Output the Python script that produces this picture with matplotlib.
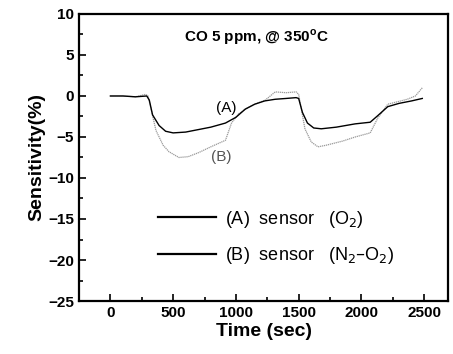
import matplotlib
matplotlib.use("Agg")
import matplotlib.pyplot as plt
from matplotlib.lines import Line2D
from matplotlib.ticker import MultipleLocator

plt.rcParams["font.family"] = ["Liberation Sans", "DejaVu Sans"]

# sensor (A), O2 ambient
time_a = [0, 100, 200, 290, 310, 336, 388, 440, 500, 600, 700, 800, 917, 1000, 1075, 1150, 1230, 1313, 1400,
          1480, 1500, 1530, 1570, 1620, 1680, 1800, 1950, 2070, 2130, 2210, 2300, 2400, 2485]
sens_a = [0.0, 0.0, -0.1, 0.0, -0.5, -2.3, -3.6, -4.3, -4.5, -4.4, -4.1, -3.8, -3.3, -2.6, -1.6, -1.0, -0.6,
          -0.4, -0.3, -0.2, -0.3, -2.0, -3.3, -3.9, -4.0, -3.8, -3.4, -3.2, -2.4, -1.3, -0.9, -0.6, -0.3]

# sensor (B), N2-O2 ambient
time_b = [0, 100, 200, 280, 300, 330, 363, 420, 467, 546, 620, 704, 800, 917, 965, 1020, 1075, 1150, 1234, 1313,
          1400, 1480, 1500, 1550, 1600, 1654, 1720, 1850, 1950, 2070, 2130, 2210, 2365, 2430, 2485]
sens_b = [0.0, 0.0, -0.1, 0.2, 0.0, -2.0, -4.2, -6.0, -6.8, -7.5, -7.4, -6.9, -6.2, -5.4, -3.3, -2.2, -1.6,
          -1.0, -0.5, 0.5, 0.4, 0.5, 0.2, -4.0, -5.6, -6.2, -6.0, -5.5, -5.0, -4.5, -2.7, -1.0, -0.4, 0.0, 1.0]

fig = plt.figure(figsize=(4.53, 3.54), dpi=100)
ax = fig.add_axes([0.1744, 0.1497, 0.8146, 0.8108])

ax.plot(time_b, sens_b, color="#9a9a9a", lw=0.9, ls=(0, (1, 0.6)))
ax.plot(time_a, sens_a, color="black", lw=1.0)

ax.set_xlim(-250, 2690)
ax.set_ylim(-25, 10)
ax.xaxis.set_major_locator(MultipleLocator(500))
ax.xaxis.set_minor_locator(MultipleLocator(250))
ax.yaxis.set_major_locator(MultipleLocator(5))
ax.yaxis.set_minor_locator(MultipleLocator(2.5))
ax.tick_params(which="both", direction="in", width=1.2)
ax.tick_params(which="major", length=5, labelsize=11)
ax.tick_params(which="minor", length=3)
for lbl in ax.get_xticklabels() + ax.get_yticklabels():
    lbl.set_fontweight("bold")
for s in ax.spines.values():
    s.set_linewidth(1.6)

ax.set_xlabel("Time (sec)", fontsize=14, fontweight="bold", labelpad=2)
ax.set_ylabel("Sensitivity(%)", fontsize=14, fontweight="bold", labelpad=2)

ax.text(0.48, 0.955, "CO 5 ppm, @ 350$^{\\mathregular{o}}$C", transform=ax.transAxes,
        ha="center", va="top", fontsize=11, fontweight="bold")
ax.text(925, -1.5, "(A)", fontsize=11, ha="center", va="center")
ax.text(880, -7.5, "(B)", fontsize=11, ha="center", va="center", color="#555555")

handles = [Line2D([], [], color="black", lw=1.6), Line2D([], [], color="black", lw=1.6)]
labels = ["(A)  sensor   (O$_2$)", "(B)  sensor   (N$_2$–O$_2$)"]
ax.legend(handles, labels, loc="lower left", bbox_to_anchor=(0.17, 0.065), frameon=False,
          handlelength=3.2, handletextpad=0.5, labelspacing=0.85,
          prop={"size": 13, "family": ["Liberation Sans", "DejaVu Sans"]})

fig.savefig("out.png", dpi=100)
